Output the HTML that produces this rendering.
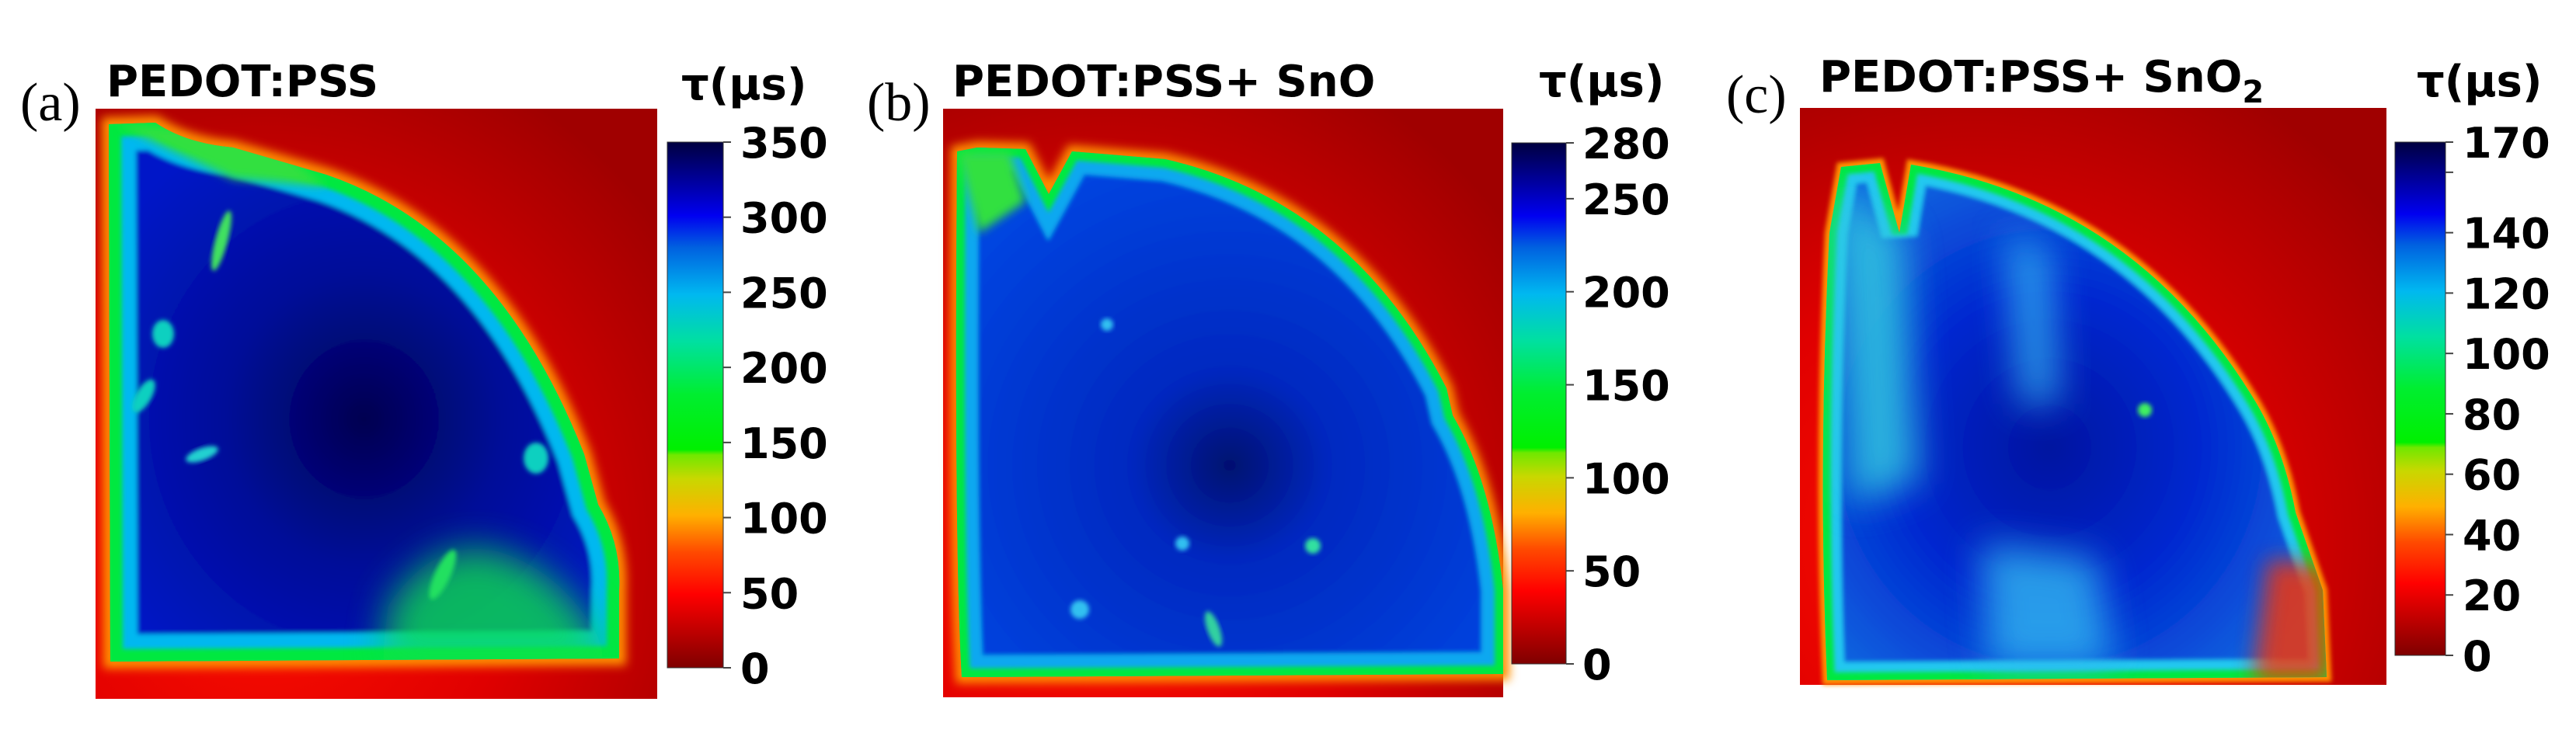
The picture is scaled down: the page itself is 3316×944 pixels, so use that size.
<!DOCTYPE html>
<html><head><meta charset="utf-8">
<style>
html,body{margin:0;padding:0;background:#fff;}
svg{display:block;}
.ttl{font-family:"DejaVu Sans","Liberation Sans",sans-serif;font-weight:bold;font-size:56px;fill:#000;}
.lbl{font-family:"Liberation Serif",serif;font-size:70px;fill:#000;}
.tick{font-family:"DejaVu Sans","Liberation Sans",sans-serif;font-weight:bold;font-size:54px;fill:#000;}
</style></head>
<body>
<svg id="fig" width="3316" height="944" viewBox="0 0 3316 944" xmlns="http://www.w3.org/2000/svg">
<defs>
  <linearGradient id="jet" x1="0" y1="1" x2="0" y2="0">
    <stop offset="0" stop-color="#7f0000"/>
    <stop offset="0.14" stop-color="#ff0000"/>
    <stop offset="0.22" stop-color="#ff4a00"/>
    <stop offset="0.29" stop-color="#ffb000"/>
    <stop offset="0.36" stop-color="#c8d800"/>
    <stop offset="0.405" stop-color="#70e800"/>
    <stop offset="0.415" stop-color="#00f000"/>
    <stop offset="0.52" stop-color="#00ee30"/>
    <stop offset="0.62" stop-color="#00e0a0"/>
    <stop offset="0.71" stop-color="#00b8f0"/>
    <stop offset="0.80" stop-color="#0060e0"/>
    <stop offset="0.86" stop-color="#0000f0"/>
    <stop offset="1" stop-color="#000040"/>
  </linearGradient>
  <radialGradient id="redbg" cx="0.3" cy="0.75" r="0.9">
    <stop offset="0" stop-color="#ff1000"/>
    <stop offset="0.5" stop-color="#e00000"/>
    <stop offset="1" stop-color="#a00000"/>
  </radialGradient>
  <radialGradient id="blueA" cx="0.5" cy="0.55" r="0.6">
    <stop offset="0" stop-color="#000050"/>
    <stop offset="0.45" stop-color="#000c98"/>
    <stop offset="1" stop-color="#0018c8"/>
  </radialGradient>
  <radialGradient id="blueB" cx="0.5" cy="0.6" r="0.6">
    <stop offset="0" stop-color="#001070"/>
    <stop offset="0.3" stop-color="#0028c0"/>
    <stop offset="1" stop-color="#0044e0"/>
  </radialGradient>
  <radialGradient id="blueC" cx="0.45" cy="0.55" r="0.6">
    <stop offset="0" stop-color="#0014a0"/>
    <stop offset="0.5" stop-color="#0028d0"/>
    <stop offset="1" stop-color="#1068e0"/>
  </radialGradient>
  <filter id="blur6" x="-50%" y="-50%" width="200%" height="200%"><feGaussianBlur stdDeviation="6"/></filter>
  <filter id="blur3" x="-20%" y="-20%" width="140%" height="140%"><feGaussianBlur stdDeviation="3"/></filter>
  <filter id="blur14" x="-50%" y="-50%" width="200%" height="200%"><feGaussianBlur stdDeviation="14"/></filter>
  <filter id="blur24" x="-60%" y="-60%" width="220%" height="220%"><feGaussianBlur stdDeviation="24"/></filter>
  <path id="shapeA" d="M140,160 L200,158 Q240,185 300,190 L420,225 Q640,300 752,585 L770,650 Q800,700 797,760 L797,848 L142,852 Z"/>
  <path id="shapeB" d="M1232,195 L1258,190 L1320,192 L1350,250 L1380,195 L1500,205 Q1740,260 1862,500 L1870,535 Q1920,620 1935,760 L1935,868 L1238,872 Q1228,700 1232,195 Z"/>
  <path id="shapeC" d="M2355,300 L2370,215 L2420,210 L2445,300 L2460,212 Q2750,260 2905,520 Q2940,580 2955,660 L2990,760 L2995,872 L2352,876 Q2340,600 2355,300 Z"/>
  <clipPath id="clipA"><use href="#shapeA"/></clipPath>
  <clipPath id="clipB"><use href="#shapeB"/></clipPath>
  <clipPath id="clipC"><use href="#shapeC"/></clipPath>
</defs>

<!-- Panel A -->
<g>
  <text class="lbl" x="26" y="155">(a)</text>
  <text class="ttl" x="137" y="124">PEDOT:PSS</text>
  <rect x="123" y="140" width="723" height="760" fill="url(#redbg)"/>
  <use href="#shapeA" fill="none" stroke="#ff9000" stroke-width="18" filter="url(#blur6)"/>
  <g clip-path="url(#clipA)">
    <use href="#shapeA" fill="url(#blueA)" stroke="#00b8f0" stroke-width="70" filter="url(#blur3)"/>
    <use href="#shapeA" fill="none" stroke="#00e840" stroke-width="32" filter="url(#blur3)"/>
    <path d="M500,780 Q560,690 640,710 Q740,740 790,860 L490,860 Z" fill="#10e050" opacity="0.8" filter="url(#blur24)"/>
    <path d="M150,160 L330,170 L420,240 L300,230 Z" fill="#30e040" filter="url(#blur6)"/>
    <ellipse cx="285" cy="310" rx="8" ry="40" fill="#40e060" transform="rotate(15 285 310)" filter="url(#blur3)"/>
    <ellipse cx="210" cy="430" rx="14" ry="18" fill="#10d0c0" filter="url(#blur3)"/>
    <ellipse cx="185" cy="510" rx="10" ry="24" fill="#10d0c0" transform="rotate(30 185 510)" filter="url(#blur3)"/>
    <ellipse cx="260" cy="585" rx="22" ry="8" fill="#20d0d0" transform="rotate(-20 260 585)" filter="url(#blur3)"/>
    <ellipse cx="570" cy="740" rx="10" ry="35" fill="#20e060" transform="rotate(25 570 740)" filter="url(#blur3)"/>
    <ellipse cx="690" cy="590" rx="16" ry="20" fill="#10d0c0" filter="url(#blur3)"/>
  </g>
  <rect x="859" y="183" width="72" height="677" fill="url(#jet)" stroke="#333" stroke-width="1"/>
  <text class="ttl" x="877" y="128">τ(μs)</text>
  <g id="ticksA"></g>
</g>

<!-- Panel B -->
<g>
  <text class="lbl" x="1116" y="155">(b)</text>
  <text class="ttl" x="1226" y="124">PEDOT:PSS+ SnO</text>
  <rect x="1214" y="140" width="721" height="758" fill="url(#redbg)"/>
  <use href="#shapeB" fill="none" stroke="#ff9000" stroke-width="16" filter="url(#blur6)"/>
  <g clip-path="url(#clipB)">
    <use href="#shapeB" fill="url(#blueB)" stroke="#10a8f0" stroke-width="56" filter="url(#blur3)"/>
    <use href="#shapeB" fill="none" stroke="#00e840" stroke-width="22" filter="url(#blur3)"/>
    <path d="M1232,195 L1300,195 L1320,260 L1260,300 Z" fill="#30e040" filter="url(#blur6)"/>
    <circle cx="1425" cy="418" r="8" fill="#30c0f0" filter="url(#blur3)"/>
    <circle cx="1522" cy="700" r="9" fill="#30c0f0" filter="url(#blur3)"/>
    <circle cx="1390" cy="785" r="12" fill="#30c0f0" filter="url(#blur3)"/>
    <circle cx="1690" cy="703" r="10" fill="#30e0a0" filter="url(#blur3)"/>
    <ellipse cx="1562" cy="810" rx="8" ry="24" fill="#30d0a0" transform="rotate(-20 1562 810)" filter="url(#blur3)"/>
  </g>
  <rect x="1946" y="184" width="70" height="671" fill="url(#jet)" stroke="#333" stroke-width="1"/>
  <text class="ttl" x="1981" y="124">τ(μs)</text>
  <g id="ticksB"></g>
</g>

<!-- Panel C -->
<g>
  <text class="lbl" x="2222" y="145">(c)</text>
  <text class="ttl" x="2342" y="118">PEDOT:PSS+ SnO<tspan dy="14" font-size="40">2</tspan></text>
  <rect x="2317" y="139" width="755" height="743" fill="url(#redbg)"/>
  <use href="#shapeC" fill="none" stroke="#ff9000" stroke-width="12" filter="url(#blur3)"/>
  <g clip-path="url(#clipC)">
    <use href="#shapeC" fill="url(#blueC)" stroke="#20c8f0" stroke-width="46" filter="url(#blur3)"/>
    <use href="#shapeC" fill="none" stroke="#00e840" stroke-width="20" filter="url(#blur3)"/>
    <path d="M2360,240 L2450,300 L2470,620 L2380,650 Z" fill="#30c8e0" opacity="0.85" filter="url(#blur24)"/>
    <path d="M2550,700 L2700,720 L2720,860 L2560,860 Z" fill="#30b8f0" opacity="0.8" filter="url(#blur24)"/>
    <path d="M2580,300 L2640,320 L2650,520 L2600,520 Z" fill="#30b0f0" opacity="0.8" filter="url(#blur24)"/>
    <path d="M2920,720 L3000,730 L3000,880 L2900,880 Z" fill="#ff3000" opacity="0.8" filter="url(#blur14)"/>
    <circle cx="2761" cy="528" r="9" fill="#40f060" filter="url(#blur3)"/>
  </g>
  <rect x="3083" y="183" width="65" height="661" fill="url(#jet)" stroke="#333" stroke-width="1"/>
  <text class="ttl" x="3111" y="124">τ(μs)</text>
  <g id="ticksC"></g>
</g>
</svg>
<script>
const ticksA = [0, 50, 100, 150, 200, 250, 300, 350];
const maxA = 350;
const ticksB = [0, 50, 100, 150, 200, 250, 280];
const maxB = 280;
const ticksC = [0, 20, 40, 60, 80, 100, 120, 140, 170];
const minorC = [160];
const maxC = 170;
const NS = 'http://www.w3.org/2000/svg';
function drawTicks(gid, ticks, minor, maxV, x1, yTop, yBot, labelX) {
  const g = document.getElementById(gid);
  const scale = v => yBot - (v / maxV) * (yBot - yTop);
  ticks.forEach(v => {
    const y = scale(v);
    const ln = document.createElementNS(NS, 'line');
    
    
    ln.setAttribute('x1', x1); ln.setAttribute('x2', x1 + 10);
    ln.setAttribute('y1', y); ln.setAttribute('y2', y);
    ln.setAttribute('stroke', '#444'); ln.setAttribute('stroke-width', '2');
    g.appendChild(ln);
    const t = document.createElementNS(NS, 'text');
    
    
    t.setAttribute('class', 'tick');
    t.setAttribute('x', labelX);
    t.setAttribute('y', y + 20);
    t.textContent = String(v);
    g.appendChild(t);
  });
  minor.forEach(v => {
    const y = scale(v);
    const ln = document.createElementNS(NS, 'line');
    
    
    ln.setAttribute('x1', x1); ln.setAttribute('x2', x1 + 10);
    ln.setAttribute('y1', y); ln.setAttribute('y2', y);
    ln.setAttribute('stroke', '#444'); ln.setAttribute('stroke-width', '2');
    g.appendChild(ln);
  });
}
drawTicks('ticksA', ticksA, [], maxA, 931, 183, 860, 953);
drawTicks('ticksB', ticksB, [], maxB, 2016, 184, 855, 2037);
drawTicks('ticksC', ticksC, minorC, maxC, 3148, 183, 844, 3170);
</script>
</body></html>
